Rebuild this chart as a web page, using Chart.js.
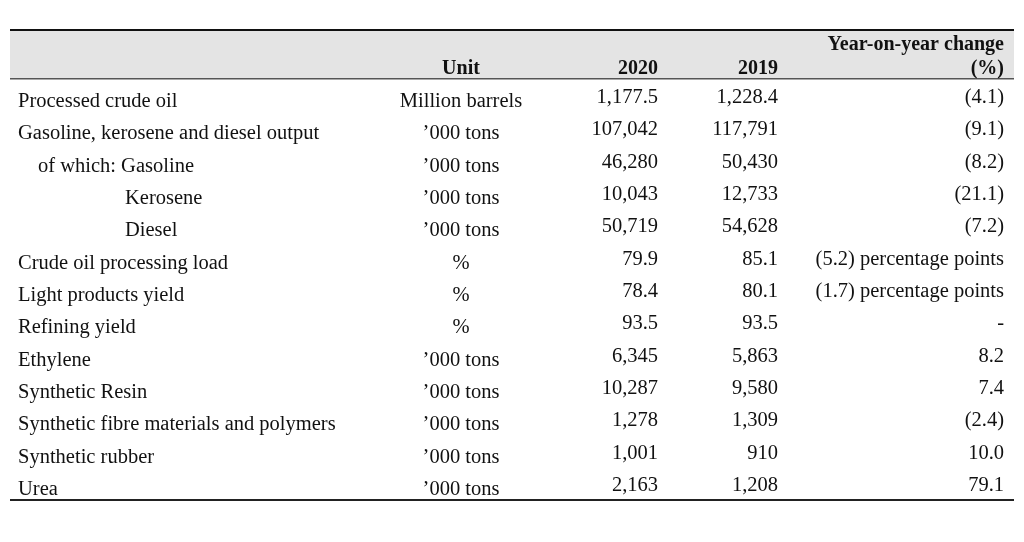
<!DOCTYPE html>
<html>
<head>
<meta charset="utf-8">
<script src="https://cdn.jsdelivr.net/npm/chart.js@4/dist/chart.umd.min.js"></script>
<style>
  html, body { margin: 0; padding: 0; background: #fff; }
  canvas { display: block; }
</style>
</head>
<body>
<canvas id="my-chart" width="1024" height="542"></canvas>
<script>
'use strict';

// Table data
let rowLabels = [
  'Processed crude oil',
  'Gasoline, kerosene and diesel output',
  'of which: Gasoline',
  'Kerosene',
  'Diesel',
  'Crude oil processing load',
  'Light products yield',
  'Refining yield',
  'Ethylene',
  'Synthetic Resin',
  'Synthetic fibre materials and polymers',
  'Synthetic rubber',
  'Urea'
];
// 0 = flush left, 1 = "of which", 2 = under Gasoline
let rowIndent = [0, 0, 1, 2, 2, 0, 0, 0, 0, 0, 0, 0, 0];

let units = [
  'Million barrels', '\u2019000 tons', '\u2019000 tons', '\u2019000 tons', '\u2019000 tons',
  '%', '%', '%', '\u2019000 tons', '\u2019000 tons', '\u2019000 tons', '\u2019000 tons', '\u2019000 tons'
];

let values2020 = ['1,177.5', '107,042', '46,280', '10,043', '50,719', '79.9', '78.4', '93.5',
  '6,345', '10,287', '1,278', '1,001', '2,163'];
let values2019 = ['1,228.4', '117,791', '50,430', '12,733', '54,628', '85.1', '80.1', '93.5',
  '5,863', '9,580', '1,309', '910', '1,208'];
let yoyChange = ['(4.1)', '(9.1)', '(8.2)', '(21.1)', '(7.2)', '(5.2) percentage points',
  '(1.7) percentage points', '-', '8.2', '7.4', '(2.4)', '10.0', '79.1'];

// header text
let headUnit = 'Unit';
let head2020 = '2020';
let head2019 = '2019';
let headYoy = ['Year-on-year change', '(%)'];

// layout (pixels along the x axis, which runs 0..1024)
let layout = {
  indentX: [18, 38, 125],
  unitX: 461,
  col2020X: 658,
  col2019X: 778,
  yoyX: 1004,
  tableLeft: 10,
  tableRight: 1014,
  topRule: 30,
  headBottom: 79,
  bottomRule: 500,
  headLine1: 50,
  headLine2: 74
};

let font = '"Liberation Serif", "Times New Roman", serif';
let textColor = '#111';

// DOM Reference
let ctx = document.getElementById('my-chart');

// one invisible point per cell, the plugin writes the text at it
function makeColumn(name, texts, xFor, align, lift) {
  let points = [];
  for (let i = 0; i < rowLabels.length; i++) {
    points.push({ x: xFor(i), y: rowLabels[i] });
  }
  return {
    label: name,
    data: points,
    texts: texts,
    align: align,
    lift: lift,
    pointRadius: 0,
    pointHoverRadius: 0,
    showLine: false
  };
}

let tablePlugin = {
  id: 'tableText',
  beforeDraw(chart) {
    let c = chart.ctx;
    c.save();
    c.fillStyle = '#fff';
    c.fillRect(0, 0, chart.width, chart.height);

    // header band
    c.fillStyle = '#e4e4e4';
    c.fillRect(layout.tableLeft, layout.topRule, layout.tableRight - layout.tableLeft, layout.headBottom - layout.topRule);

    c.fillStyle = '#111';
    c.fillRect(layout.tableLeft, layout.topRule - 1, layout.tableRight - layout.tableLeft, 2);
    c.fillStyle = '#555';
    c.fillRect(layout.tableLeft, layout.headBottom - 1, layout.tableRight - layout.tableLeft, 1.5);
    c.fillStyle = '#222';
    c.fillRect(layout.tableLeft, layout.bottomRule - 1, layout.tableRight - layout.tableLeft, 2);

    // header text
    c.font = 'bold 20px ' + font;
    c.fillStyle = textColor;
    c.textBaseline = 'alphabetic';
    c.textAlign = 'center';
    c.fillText(headUnit, layout.unitX, layout.headLine2);
    c.textAlign = 'right';
    c.fillText(head2020, layout.col2020X, layout.headLine2);
    c.fillText(head2019, layout.col2019X, layout.headLine2);
    c.fillText(headYoy[0], layout.yoyX, layout.headLine1);
    c.fillText(headYoy[1], layout.yoyX, layout.headLine2);
    c.restore();
  },
  afterDatasetsDraw(chart) {
    let c = chart.ctx;
    c.save();
    c.font = '20.5px ' + font;
    c.fillStyle = textColor;
    c.textBaseline = 'alphabetic';
    chart.data.datasets.forEach(function (ds, d) {
      let meta = chart.getDatasetMeta(d);
      c.textAlign = ds.align;
      meta.data.forEach(function (pt, i) {
        c.fillText(ds.texts[i], pt.x, pt.y + 5 - ds.lift);
      });
    });
    c.restore();
  }
};

let chartObject = {
  type: 'scatter',
  data: {
    datasets: [
      makeColumn('Item', rowLabels, function (i) { return layout.indentX[rowIndent[i]]; }, 'left', 0),
      makeColumn('Unit', units, function () { return layout.unitX; }, 'center', 0),
      makeColumn('2020', values2020, function () { return layout.col2020X; }, 'right', 4),
      makeColumn('2019', values2019, function () { return layout.col2019X; }, 'right', 4),
      makeColumn('Year-on-year change (%)', yoyChange, function () { return layout.yoyX; }, 'right', 4)
    ]
  },
  options: {
    responsive: false,
    animation: false,
    events: [],
    layout: { padding: { top: 86, bottom: 36, left: 0, right: 0 } },
    plugins: {
      legend: { display: false },
      tooltip: { enabled: false }
    },
    scales: {
      x: { type: 'linear', min: 0, max: 1024, display: false },
      y: { type: 'category', labels: rowLabels, offset: true, display: false }
    }
  },
  plugins: [tablePlugin]
};

const myChart = new Chart(ctx, chartObject);
</script>
</body>
</html>
